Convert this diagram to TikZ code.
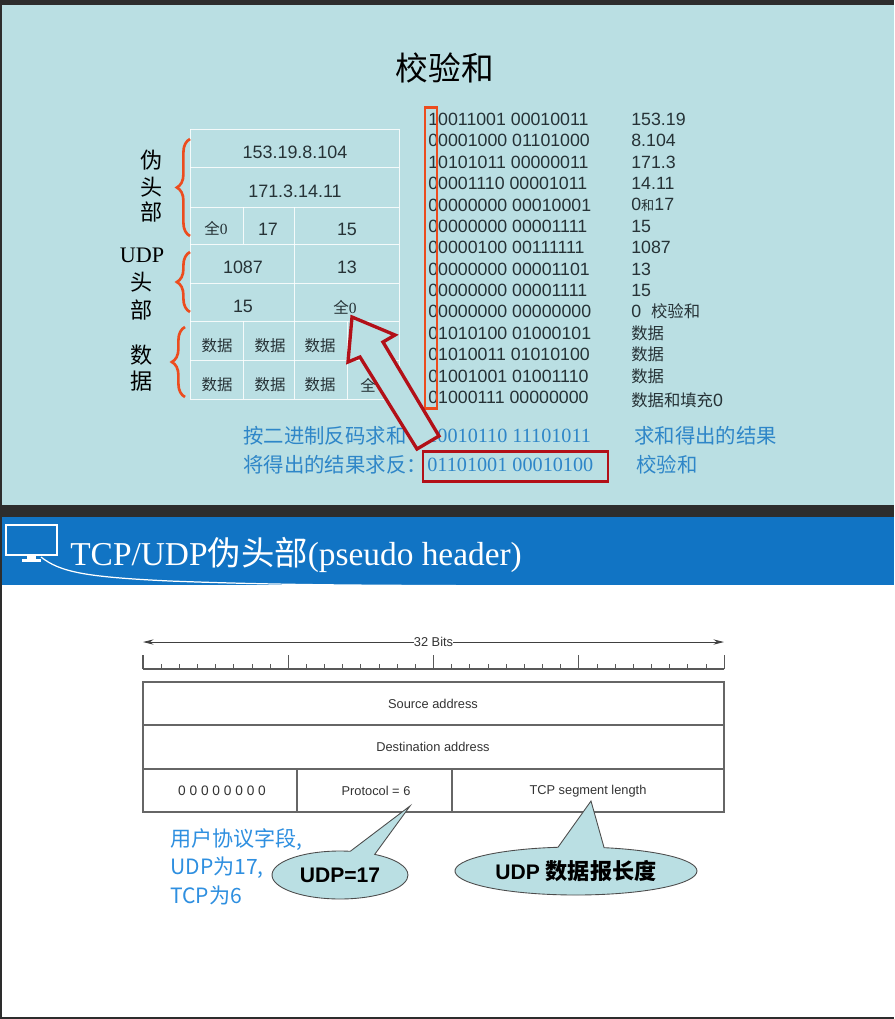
\documentclass[tikz,border=0pt]{standalone}
\usepackage{fontspec}
\setmainfont{Liberation Serif}
\setsansfont{Liberation Sans}
\newfontfamily\cjk{Noto Sans CJK SC}
\usetikzlibrary{decorations.pathreplacing,shapes.callouts,arrows.meta}
\definecolor{slidebg}{RGB}{186,223,227}
\definecolor{framedark}{RGB}{45,45,45}
\definecolor{headblue}{RGB}{17,116,196}
\definecolor{bracered}{RGB}{236,76,30}
\definecolor{arrowred}{RGB}{178,16,24}
\definecolor{textblue}{RGB}{46,134,200}
\definecolor{noteblue}{RGB}{46,143,224}
\definecolor{inkgray}{RGB}{38,50,54}
\tikzset{
    cell/.style={inner sep=0pt,text=inkgray,font=\sffamily\fontsize{10.2pt}{12pt}\selectfont},
    cellcn/.style={inner sep=0pt,text=inkgray,font=\cjk\fontsize{8.8pt}{11pt}\selectfont},
    sidelabel/.style={inner sep=0pt,text=black,font=\cjk\fontsize{12.6pt}{15pt}\selectfont},
    bits/.style={inner sep=0pt,anchor=west,text=inkgray,font=\sffamily\fontsize{10.1pt}{12pt}\selectfont},
    sumtext/.style={inner sep=0pt,anchor=west,text=textblue,font=\cjk\fontsize{11.6pt}{13pt}\selectfont},
    sumbits/.style={inner sep=0pt,anchor=west,text=textblue,font=\rmfamily\fontsize{11.5pt}{13pt}\selectfont},
    brace/.style={draw=bracered,line width=1.5pt,decorate,decoration={brace,amplitude=7.5pt}},
    gridline/.style={draw=white,line width=0.5pt,opacity=0.85},
    field/.style={inner sep=0pt,text=black!80,font=\sffamily\fontsize{7.3pt}{9pt}\selectfont},
    note/.style={inner sep=0pt,anchor=west,text=noteblue,font=\cjk\fontsize{12pt}{14pt}\selectfont},
    bubble/.style={ellipse callout,draw=black!70,fill=slidebg,line width=0.5pt,inner sep=0pt,
        callout pointer arc=22,font=\sffamily\bfseries\fontsize{12pt}{14pt}\selectfont}
}
\newcommand{\smallcn}[1]{{\cjk\fontsize{9.3pt}{11pt}\selectfont #1}}
\begin{document}
\begin{tikzpicture}[x=0.02cm,y=-0.02cm]
    \useasboundingbox (0,0) rectangle (894,1019);
    % slide frames
    \fill[framedark] (0,0) rectangle (894,1019);
    \fill[slidebg] (2,5) rectangle (894,505);
    \fill[white] (2,585) rectangle (894,1017);
    \fill[headblue] (2,517) rectangle (894,585);

    \node[inner sep=0pt,font=\cjk\fontsize{18.6pt}{22pt}\selectfont] (title) at (445,68) {校验和};

    % upper table
    \foreach \y in {129,167,207,244,283,321,360,399} {
        \draw[gridline] (190,\y) -- (399,\y);
    }
    \foreach \x in {190,399} {
        \draw[gridline] (\x,129) -- (\x,399);
    }
    \draw[gridline] (243,207) -- (243,244);
    \draw[gridline] (294,207) -- (294,321);
    \foreach \x in {243,294,347} {
        \draw[gridline] (\x,321) -- (\x,399);
    }
    \node[cell] (srcip) at (295,152) {153.19.8.104};
    \node[cell] (dstip) at (295,191) {171.3.14.11};
    \node[cellcn] (zeroa) at (216,228) {全\rmfamily 0};
    \node[cell] (proto) at (268,229) {17};
    \node[cell] (lena) at (347,229) {15};
    \node[cell] (srcport) at (243,267) {1087};
    \node[cell] (dstport) at (347,267) {13};
    \node[cell] (lenb) at (243,306) {15};
    \node[cellcn] (zerob) at (345,307) {全\rmfamily 0};
    \foreach \x [count=\n] in {217,270,320} {
        \node[cellcn] (dataa\n) at (\x,346) {数据};
        \node[cellcn] (datab\n) at (\x,385) {数据};
    }
    \node[cellcn] (zeroc) at (368,385) {全};

    % side labels
    \node[sidelabel] (fa) at (152,160) {伪};
    \node[sidelabel] (fb) at (152,187) {头};
    \node[sidelabel] (fc) at (152,212) {部};
    \node[sidelabel,font=\rmfamily\fontsize{12.6pt}{15pt}\selectfont] (ua) at (142,255) {UDP};
    \node[sidelabel] (ub) at (142,282) {头};
    \node[sidelabel] (uc) at (142,310) {部};
    \node[sidelabel] (da) at (142,355) {数};
    \node[sidelabel] (db) at (142,381) {据};
    \draw[brace] (190,236) -- (190,139);
    \draw[brace] (190,312) -- (190,252);
    \draw[brace] (185,397) -- (185,327);

    % binary rows
    \foreach \y/\w/\v [count=\n] in {
        119/10011001 00010011/153.19,
        140/00001000 01101000/8.104,
        162/10101011 00000011/171.3,
        183/00001110 00001011/14.11,
        205/00000000 00010001/0{\cjk\fontsize{7.5pt}{9pt}\selectfont 和}17,
        226/00000000 00001111/15,
        247/00000100 00111111/1087,
        269/00000000 00001101/13,
        290/00000000 00001111/15,
        311/00000000 00000000/0\ \ \smallcn{校验和},
        333/01010100 01000101/\smallcn{数据},
        354/01010011 01010100/\smallcn{数据},
        376/01001001 01001110/\smallcn{数据}} {
        \node[bits] (word\n) at (428,\y) {\w};
        \node[bits] (val\n) at (631,\y) {\v};
    }
    \node[bits] (wordlast) at (428,397) {01000111 00000000};
    \node[bits] (vallast) at (631,400) {\smallcn{数据和填充}0};
    \draw[bracered,line width=1.7pt] (425,107) rectangle (437,408);

    % sums
    \node[sumtext] (sumlabel) at (243,436) {按二进制反码求和};
    \node[sumbits] (sumbits) at (427,436) {10010110 11101011};
    \node[sumtext] (sumnote) at (634,436) {求和得出的结果};
    \node[sumtext] (invlabel) at (243,465) {将得出的结果求反：};
    \node[sumbits] (invbits) at (427,465) {01101001 00010100};
    \node[sumtext] (invnote) at (636,465) {校验和};
    \draw[arrowred,line width=1.7pt] (423,451) rectangle (608,481);

    % block arrow
    \draw[arrowred,fill=slidebg,line width=1.9pt,line join=miter]
        (352,317) -- (395,335) -- (383,342) -- (439,436) -- (417,449)
        -- (360,357) -- (348,362) -- cycle;

    % lower slide header
    \draw[white,line width=1.2pt] (6,525) rectangle (57,555);
    \fill[white] (27,555) rectangle (36,559);
    \fill[white] (22,559) rectangle (41,562);
    \draw[white,line width=0.7pt] (41,557) .. controls (60,572) and (85,577) .. (170,581)
        .. controls (300,586) and (400,585) .. (520,586);
    \node[inner sep=0pt,anchor=west,text=white,font=\rmfamily\fontsize{19pt}{22pt}\selectfont] (head)
        at (70,555) {TCP/UDP{\cjk 伪头部}(pseudo header)};

    % ruler
    \coordinate (bitsl) at (143,642);
    \coordinate (bitsr) at (724,642);
    \draw[{Stealth[length=6pt,width=3pt]}-{Stealth[length=6pt,width=3pt]},black!75,line width=0.5pt] (bitsl) -- (bitsr)
        node[midway,fill=white,inner sep=3pt,field] (bitslabel) {32 Bits};
    \draw[black!65,line width=0.6pt] (143,669) -- (724,669);
    \foreach \i in {0,...,32} {
        \draw[black!65,line width=0.5pt] ({143+\i*18.16},669) -- ({143+\i*18.16},664);
    }
    \foreach \i in {0,8,16,24,32} {
        \draw[black!65,line width=0.6pt] ({143+\i*18.16},669) -- ({143+\i*18.16},655);
    }

    % pseudo header
    \draw[black!60,line width=0.6pt] (143,682) rectangle (724,812);
    \foreach \y in {725,769} {
        \draw[black!60,line width=0.6pt] (143,\y) -- (724,\y);
    }
    \foreach \x in {297,452} {
        \draw[black!60,line width=0.6pt] (\x,769) -- (\x,812);
    }
    \node[field] (srcaddr) at (433,704) {Source address};
    \node[field] (dstaddr) at (433,747) {Destination address};
    \node[field,font=\sffamily\fontsize{7.8pt}{9pt}\selectfont] (zeros) at (222,791) {0 0 0 0 0 0 0 0};
    \node[field] (protofield) at (376,791) {Protocol = 6};
    \node[field] (seglen) at (588,791) {TCP segment length};

    \coordinate (tipa) at (410,806);
    \coordinate (tipb) at (591,801);
    \node[bubble,callout absolute pointer={(tipa)},
        minimum width=2.72cm,minimum height=0.96cm] (udpbubble) at (340,875) {UDP=17};
    \node[bubble,callout absolute pointer={(tipb)},
        minimum width=4.84cm,minimum height=0.96cm] (lenbubble) at (576,871) {UDP {\cjk\fontsize{12.6pt}{14pt}\selectfont 数据报长度}};

    \node[note] (notea) at (170,840) {用户协议字段,};
    \node[note] (noteb) at (170,868) {UDP为17,};
    \node[note] (notec) at (170,895) {TCP为6};
\end{tikzpicture}
\end{document}
